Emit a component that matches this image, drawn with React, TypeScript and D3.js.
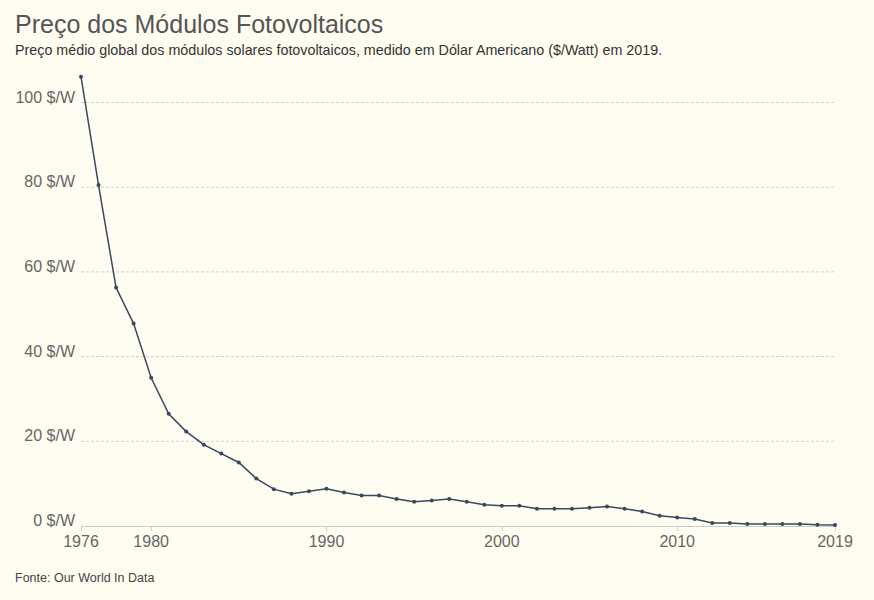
import React from "react";
import * as d3 from "d3";

const years: number[] = [
  1976, 1977, 1978, 1979, 1980, 1981, 1982, 1983, 1984, 1985, 1986, 1987, 1988, 1989,
  1990, 1991, 1992, 1993, 1994, 1995, 1996, 1997, 1998, 1999, 2000, 2001, 2002, 2003,
  2004, 2005, 2006, 2007, 2008, 2009, 2010, 2011, 2012, 2013, 2014, 2015, 2016, 2017,
  2018, 2019,
];
const prices: number[] = [
  106.1, 80.5, 56.3, 47.8, 35.0, 26.5, 22.3, 19.2, 17.1, 15.0, 11.2, 8.7, 7.6, 8.2,
  8.8, 7.9, 7.2, 7.2, 6.4, 5.7, 6.0, 6.4, 5.7, 5.0, 4.8, 4.8, 4.1, 4.1,
  4.1, 4.3, 4.6, 4.1, 3.4, 2.4, 2.0, 1.65, 0.72, 0.7, 0.48, 0.47, 0.47, 0.47,
  0.27, 0.25,
];
const yTicks: number[] = [0, 20, 40, 60, 80, 100];
const xTicks: number[] = [1976, 1980, 1990, 2000, 2010, 2019];

const title = "Preço dos Módulos Fotovoltaicos";
const subtitle =
  "Preço médio global dos módulos solares fotovoltaicos, medido em Dólar Americano ($/Watt) em 2019.";
const source = "Fonte: Our World In Data";

const W = 874;
const H = 600;
const FONT = "'Liberation Sans', Arial, sans-serif";

export default function App() {
  const x = d3.scaleLinear().domain([1976, 2019]).range([81, 835]);
  const y = d3.scaleLinear().domain([0, 100]).range([526, 102.5]);
  const data = years.map((yr, i) => ({ yr, v: prices[i] }));
  const line = d3
    .line<{ yr: number; v: number }>()
    .x((d) => x(d.yr))
    .y((d) => y(d.v));

  return (
    <svg
      width={W}
      height={H}
      style={{ position: "absolute", left: 0, top: 0, background: "#fffdf1" }}
      fontFamily={FONT}
    >
      <rect x={0} y={0} width={W} height={H} fill="#fffdf1" />
      <text x={15} y={33} fontSize={25} fill="#555">
        {title}
      </text>
      <text x={15} y={55} fontSize={14.3} fill="#333">
        {subtitle}
      </text>

      {yTicks.map((t) => (
        <g key={t}>
          {t > 0 && (
            <line
              x1={x(1976)}
              x2={x(2019)}
              y1={y(t)}
              y2={y(t)}
              stroke="#d0d0d0"
              strokeDasharray="3,2"
              strokeWidth={1}
            />
          )}
          <text x={75} y={y(t)} textAnchor="end" fontSize={16} fill="#666">
            {`${t} $/W`}
          </text>
        </g>
      ))}

      <line x1={x(1976)} x2={x(2019)} y1={526.5} y2={526.5} stroke="#ccc" strokeWidth={1} />
      {xTicks.map((t) => (
        <g key={t}>
          <line
            x1={Math.round(x(t)) + 0.5}
            x2={Math.round(x(t)) + 0.5}
            y1={526.5}
            y2={531}
            stroke="#ccc"
          />
          <text x={x(t)} y={547} textAnchor="middle" fontSize={16} fill="#666">
            {t}
          </text>
        </g>
      ))}

      <path d={line(data) ?? ""} fill="none" stroke="#3a4760" strokeWidth={1.5} />
      {data.map((d) => (
        <circle key={d.yr} cx={x(d.yr)} cy={y(d.v)} r={2} fill="#3a4760" />
      ))}

      <text x={15} y={582} fontSize={12.5} fill="#444">
        {source}
      </text>
    </svg>
  );
}
